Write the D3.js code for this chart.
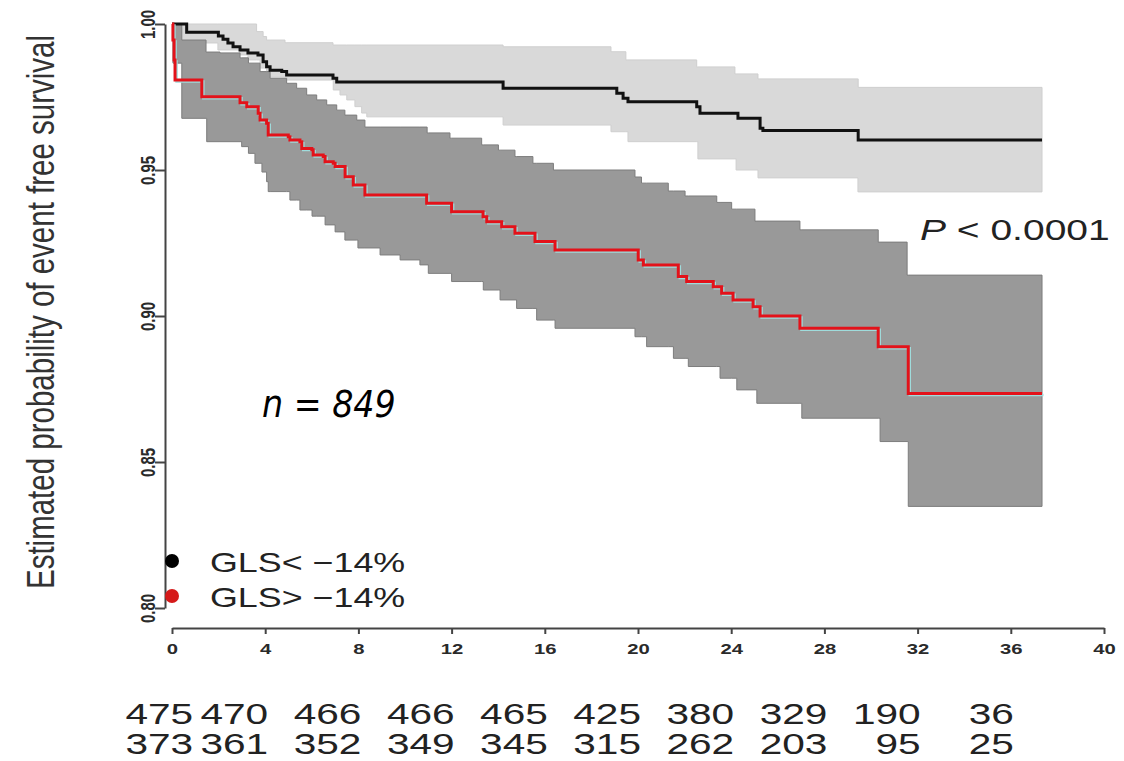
<!DOCTYPE html>
<html>
<head>
<meta charset="utf-8">
<script src="https://cdn.jsdelivr.net/npm/d3@7"></script>
<style>
  body { margin: 0; background: #fff; }
  svg { display: block; }
</style>
</head>
<body>
<div id="chart"></div>
<script>
// GLS < -14% : Kaplan-Meier estimate and confidence band
var blackTimes = [0, 0.63, 1.99, 2.19, 2.40, 2.62, 2.92, 3.26, 3.69, 3.91, 4.06, 4.21, 4.71, 4.92, 6.91, 7.07, 14.21, 19.09, 19.36, 19.57, 22.52, 22.66, 24.29, 25.24, 25.36, 29.45];
var blackSurv  = [1, 0.9972, 0.9959, 0.9948, 0.9935, 0.9922, 0.9911, 0.9901, 0.9894, 0.9871, 0.9854, 0.9842, 0.9837, 0.9825, 0.9814, 0.9801, 0.9780, 0.9763, 0.9746, 0.9734, 0.9717, 0.9694, 0.9677, 0.9643, 0.9635, 0.9603];

var blackUpperTimes = [0, 3.63, 3.91, 4.06, 4.85, 6.91, 14.21, 18.84, 19.48, 22.52, 24.16, 25.15, 29.45];
var blackUpper      = [1, 0.9974, 0.9957, 0.9945, 0.9936, 0.9928, 0.9922, 0.9905, 0.9877, 0.9853, 0.9829, 0.9812, 0.9783];
var blackLowerTimes = [0, 0.09, 1.46, 1.97, 2.92, 3.26, 3.78, 4.06, 4.21, 4.93, 6.92, 7.21, 7.50, 7.85, 8.14, 8.36, 14.21, 18.84, 19.57, 22.57, 24.21, 25.15, 29.44];
var blackLower      = [1, 0.9945, 0.9935, 0.9911, 0.9894, 0.9877, 0.9849, 0.9829, 0.9818, 0.9808, 0.9774, 0.9757, 0.9740, 0.9717, 0.9695, 0.9682, 0.9654, 0.9631, 0.9597, 0.9538, 0.9500, 0.9473, 0.9425];

// GLS > -14%
var redTimes = [0, 0.04, 0.09, 0.13, 1.28, 2.92, 3.21, 3.70, 3.78, 4.06, 4.13, 4.99, 5.06, 5.49, 5.57, 6.00, 6.06, 6.49, 6.57, 6.92, 7.00, 7.43, 7.78, 8.28, 10.93, 12.00, 13.35, 13.51, 14.15, 14.72, 15.58, 16.44, 20.01, 20.23, 21.73, 22.09, 23.23, 23.59, 24.08, 24.94, 25.24, 26.95, 30.31, 31.60];
var redSurv  = [1, 0.9945, 0.9877, 0.9808, 0.9751, 0.9730, 0.9717, 0.9694, 0.9671, 0.9660, 0.9620, 0.9614, 0.9603, 0.9597, 0.9574, 0.9569, 0.9551, 0.9546, 0.9528, 0.9523, 0.9512, 0.9477, 0.9449, 0.9414, 0.9386, 0.9357, 0.9340, 0.9323, 0.9306, 0.9283, 0.9255, 0.9226, 0.9192, 0.9175, 0.9135, 0.9118, 0.9100, 0.9078, 0.9055, 0.9032, 0.9000, 0.8958, 0.8895, 0.8735];

var redUpperTimes = [0, 0.42, 1.46, 2.06, 2.92, 3.28, 3.78, 4.21, 4.92, 5.35, 5.78, 6.21, 6.64, 7.07, 7.42, 7.93, 8.28, 10.95, 11.93, 13.29, 14.01, 14.72, 15.49, 16.37, 19.87, 20.15, 21.30, 22.02, 23.38, 24.02, 25.02, 26.95, 30.31, 31.55];
var redUpper      = [1, 0.9945, 0.9904, 0.9901, 0.9884, 0.9866, 0.9837, 0.9814, 0.9797, 0.9780, 0.9757, 0.9740, 0.9723, 0.9705, 0.9688, 0.9671, 0.9647, 0.9627, 0.9609, 0.9586, 0.9568, 0.9546, 0.9523, 0.9500, 0.9476, 0.9455, 0.9428, 0.9411, 0.9389, 0.9366, 0.9325, 0.9295, 0.9253, 0.9140];
var redLowerTimes = [0, 0.04, 0.42, 1.49, 2.99, 3.28, 3.56, 3.86, 4.06, 4.13, 5.06, 5.49, 6.01, 6.57, 7.00, 7.42, 7.98, 8.93, 9.79, 10.64, 11.00, 12.00, 13.36, 14.08, 14.79, 15.65, 16.44, 19.87, 20.37, 21.52, 22.16, 23.52, 24.24, 25.10, 27.03, 30.39, 31.60];
var redLower      = [1, 0.9866, 0.9677, 0.9597, 0.9580, 0.9557, 0.9523, 0.9493, 0.9460, 0.9426, 0.9397, 0.9363, 0.9342, 0.9312, 0.9288, 0.9260, 0.9233, 0.9209, 0.9192, 0.9175, 0.9146, 0.9118, 0.9089, 0.9055, 0.9026, 0.8986, 0.8958, 0.8929, 0.8895, 0.8855, 0.8827, 0.8787, 0.8747, 0.8701, 0.8650, 0.8570, 0.8348];

var lastTime = 37.34;

var xTicks = [0, 4, 8, 12, 16, 20, 24, 28, 32, 36, 40];
var yTicks = [0.80, 0.85, 0.90, 0.95, 1.00];

// numbers at risk
var riskTimes = [0, 4, 8, 12, 16, 20, 24, 28, 32, 36];
var riskBlack = [475, 470, 466, 466, 465, 425, 380, 329, 190, 36];
var riskRed   = [373, 361, 352, 349, 345, 315, 262, 203, 95, 25];

var legendLabels = ["GLS< \u221214%", "GLS> \u221214%"];

var width = 1124, height = 761;
var font = "'Liberation Sans', Arial, sans-serif";

var svg = d3.select("#chart").append("svg")
  .attr("width", width)
  .attr("height", height);

var x = d3.scaleLinear().domain([0, 40]).range([172, 1104]);
var y = d3.scaleLinear().domain([0.8, 1.0]).range([608, 24]);

var stepValue = function(ts, vs, t) {
  var i = d3.bisectRight(ts, t) - 1;
  return vs[Math.max(i, 0)];
};

var bandData = function(hiT, hiV, loT, loV) {
  var grid = Array.from(new Set(hiT.concat(loT, [lastTime]))).sort(d3.ascending);
  return grid.map(function(t) {
    return { t: t, hi: stepValue(hiT, hiV, t), lo: stepValue(loT, loV, t) };
  });
};

var lineData = function(ts, vs) {
  var pts = ts.map(function(t, i) { return { t: t, v: vs[i] }; });
  pts.push({ t: lastTime, v: vs[vs.length - 1] });
  return pts;
};

var band = d3.area()
  .curve(d3.curveStepAfter)
  .x(function(d) { return x(d.t); })
  .y0(function(d) { return y(d.lo); })
  .y1(function(d) { return y(d.hi); });

var line = d3.line()
  .curve(d3.curveStepAfter)
  .x(function(d) { return x(d.t); })
  .y(function(d) { return y(d.v); });

// confidence bands
svg.append("path")
  .attr("d", band(bandData(blackUpperTimes, blackUpper, blackLowerTimes, blackLower)))
  .attr("fill", "#d9d9d9")
  .attr("stroke", "#cfcfcf")
  .attr("stroke-width", 1);

svg.append("path")
  .attr("d", band(bandData(redUpperTimes, redUpper, redLowerTimes, redLower)))
  .attr("fill", "#999999")
  .attr("stroke", "#7d7d7d")
  .attr("stroke-width", 1);

// survival curves
svg.append("path")
  .attr("d", line(lineData(blackTimes, blackSurv)))
  .attr("fill", "none")
  .attr("stroke", "#111")
  .attr("stroke-width", 3);

svg.append("path")
  .attr("d", line(lineData(redTimes, redSurv)))
  .attr("transform", "translate(1.5,1.5)")
  .attr("fill", "none")
  .attr("stroke", "#9fdcdc")
  .attr("stroke-width", 2.5);

svg.append("path")
  .attr("d", line(lineData(redTimes, redSurv)))
  .attr("fill", "none")
  .attr("stroke", "#e3121a")
  .attr("stroke-width", 3);

// x axis
var xAxis = svg.append("g")
  .attr("transform", "translate(0,628)")
  .call(d3.axisBottom(x).tickValues(xTicks).tickSize(6).tickSizeOuter(0).tickFormat(d3.format("d")));
xAxis.select(".domain").attr("stroke", "#444").attr("stroke-width", 2);
xAxis.selectAll(".tick line").attr("stroke", "#444").attr("stroke-width", 2);
xAxis.selectAll(".tick text")
  .attr("y", 0).attr("dy", null)
  .attr("transform", "translate(0,26) scale(1.35,1)")
  .attr("fill", "#2a2a2a")
  .style("font-family", font)
  .style("font-weight", "bold")
  .style("font-size", "15px");

// y axis
var yAxis = svg.append("g")
  .attr("transform", "translate(165,0)")
  .call(d3.axisLeft(y).tickValues(yTicks).tickSize(10).tickSizeOuter(0).tickFormat(d3.format(".2f")));
yAxis.select(".domain").attr("stroke", "#444").attr("stroke-width", 2);
yAxis.selectAll(".tick line").attr("stroke", "#444").attr("stroke-width", 2);
yAxis.selectAll(".tick text")
  .attr("x", 0).attr("dy", null)
  .attr("text-anchor", "middle")
  .attr("transform", "translate(-10,0) rotate(-90) scale(1,1.35)")
  .attr("fill", "#2a2a2a")
  .style("font-family", font)
  .style("font-weight", "bold")
  .style("font-size", "15px");

// y axis label
svg.append("text")
  .attr("transform", "translate(54,312) rotate(-90) scale(1,1.3)")
  .attr("text-anchor", "middle")
  .attr("fill", "#333")
  .style("font-family", font)
  .style("font-size", "29.5px")
  .text("Estimated probability of event free survival");

// legend
var legend = svg.append("g");
legendLabels.forEach(function(label, i) {
  legend.append("circle")
    .attr("cx", 172)
    .attr("cy", 561 + i * 35)
    .attr("r", 7)
    .attr("fill", i === 0 ? "#000" : "#d51a1a");
  legend.append("text")
    .attr("transform", "translate(210," + (572 + i * 35) + ") scale(1.28,1)")
    .attr("fill", "#222")
    .style("font-family", font)
    .style("font-size", "28px")
    .text(label);
});

// p value
var pText = svg.append("text")
  .attr("transform", "translate(920,240) scale(1.3,1)")
  .attr("fill", "#222")
  .style("font-family", font)
  .style("font-size", "30px");
pText.append("tspan").style("font-style", "italic").text("P");
pText.append("tspan").text(" < 0.0001");

svg.append("text")
  .attr("transform", "translate(262,417) scale(0.9,1)")
  .attr("fill", "#000")
  .style("font-family", "'DejaVu Sans', Verdana, sans-serif")
  .style("font-style", "italic")
  .style("font-size", "37px")
  .text("n = 849");

// numbers at risk table
[riskBlack, riskRed].forEach(function(row, r) {
  svg.append("g").selectAll("text")
    .data(row)
    .enter().append("text")
      .attr("transform", function(d, i) {
        var px = i === 0 ? x(riskTimes[1]) - 72 : x(riskTimes[i]) + 3;
        return "translate(" + px + "," + (724 + r * 30) + ") scale(1.4,1)";
      })
      .attr("text-anchor", "end")
      .attr("fill", "#222")
      .style("font-family", font)
      .style("font-size", "29px")
      .text(function(d) { return d; });
});
</script>
</body>
</html>
